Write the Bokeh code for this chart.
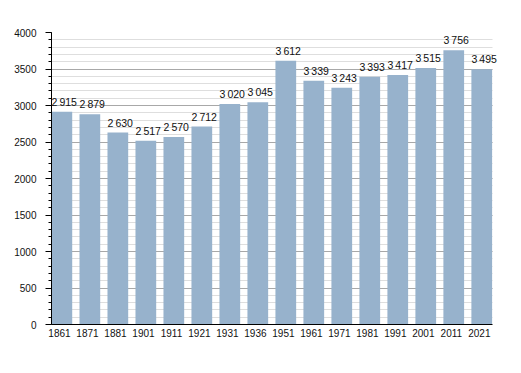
from bokeh.plotting import figure
from bokeh.models import ColumnDataSource, FixedTicker, SingleIntervalTicker, Range1d
from bokeh.core.properties import value
from bokeh.embed import file_html
from bokeh.resources import INLINE

years = ["1861", "1871", "1881", "1901", "1911", "1921", "1931", "1936",
         "1951", "1961", "1971", "1981", "1991", "2001", "2011", "2021"]
population = [2915, 2879, 2630, 2517, 2570, 2712, 3020, 3045,
              3612, 3339, 3243, 3393, 3417, 3515, 3756, 3495]

BAR_W = 0.74
SHIFT = 0.085
EXTRA = 0.3  # room for the last value label
idx = list(range(len(years)))
xs = [i + SHIFT for i in idx]
labels = [f"{v:,}".replace(",", "\u2009") for v in population]
src = ColumnDataSource(dict(x=xs, left=[x - BAR_W / 2 for x in xs], top=population, label=labels))

x_start = -BAR_W / 2 + SHIFT
x_end = len(years) - 1 + SHIFT + BAR_W / 2

FONT = "Liberation Sans"
p = figure(width=513, height=360, output_backend="svg", toolbar_location=None,
           x_range=Range1d(x_start, x_end + EXTRA),
           y_range=Range1d(0, 4000),
           min_border_left=51, min_border_top=32, min_border_right=13, min_border_bottom=36)
p.outline_line_color = None
p.background_fill_color = "white"

p.vbar(x="x", top="top", width=BAR_W, bottom=0, source=src,
       fill_color="#97b2cc", line_color=None)
p.text(x="left", y="top", text="label", source=src, text_align="left",
       text_baseline="bottom", y_offset=-4, text_font=value(FONT),
       text_font_size="10.5px", text_color="#111111")

# y axis
yax = p.yaxis[0]
yax.ticker = SingleIntervalTicker(interval=500, num_minor_ticks=5)
yax.axis_line_color = "black"
yax.major_tick_out = 6
yax.major_tick_in = 0
yax.minor_tick_out = 3
yax.minor_tick_in = 0
yax.major_tick_line_color = "black"
yax.minor_tick_line_color = "black"
yax.major_label_standoff = 9
yax.major_label_text_font = FONT
yax.major_label_text_font_size = "10px"
yax.major_label_text_color = "#111111"

# x axis
xax = p.xaxis[0]
xax.ticker = FixedTicker(ticks=idx)
xax.major_label_overrides = {i: y for i, y in zip(idx, years)}
xax.bounds = (x_start, x_end)
xax.axis_line_color = "black"
xax.major_tick_line_color = None
xax.minor_tick_line_color = None
xax.major_tick_out = 0
xax.major_label_standoff = 4
xax.major_label_text_font = FONT
xax.major_label_text_font_size = "10px"
xax.major_label_text_color = "#111111"

p.xgrid.grid_line_color = None
p.ygrid.grid_line_color = "#a8a8a8"
p.ygrid.minor_grid_line_color = "#dedede"
p.ygrid.level = "underlay"
if hasattr(p.ygrid[0], "cross_bounds"):
    p.ygrid[0].cross_bounds = (x_start, x_end)

open("out.html", "w").write(file_html(p, INLINE))
